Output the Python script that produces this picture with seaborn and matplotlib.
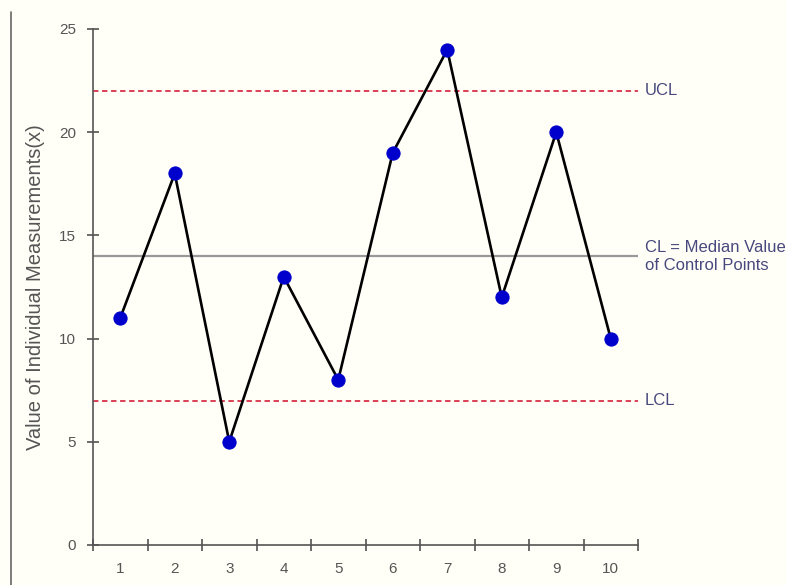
import numpy as np
import pandas as pd
import seaborn as sns
import matplotlib.pyplot as plt
from matplotlib.lines import Line2D
from matplotlib.ticker import FixedLocator

# datos del grafico de control
muestras = [1, 2, 3, 4, 5, 6, 7, 8, 9, 10]
valores = [11, 18, 5, 13, 8, 19, 24, 12, 20, 10]
ucl = 22
cl = 14
lcl = 7
y_ticks = [0, 5, 10, 15, 20, 25]

df = pd.DataFrame({"muestra": muestras, "valor": valores})

sns.set_style("white")
plt.rcParams["font.family"] = ["Liberation Sans", "DejaVu Sans"]

fondo = "#fffff8"
gris = "#555555"
texto = "#48487e"

fig = plt.figure(figsize=(7.86, 5.85), dpi=100, facecolor=fondo)
ax = fig.add_axes([93 / 786, 40 / 585, 545 / 786, 516 / 585])
ax.set_facecolor(fondo)

ax.axhline(cl, color="#999999", lw=1.6, zorder=1)
ax.axhline(ucl, color="#d9304a", lw=1.3, ls=(0, (3, 2)), zorder=1)
ax.axhline(lcl, color="#d9304a", lw=1.3, ls=(0, (3, 2)), zorder=1)

sns.lineplot(data=df, x="muestra", y="valor", ax=ax, color="black", lw=1.9,
             marker="o", markersize=9.5, markerfacecolor="#0000cc",
             markeredgecolor="#0000cc", zorder=3)

ax.set_xlim(0.5, 10.5)
ax.set_ylim(0, 25)

# etiquetas en el centro, marcas en los limites
ax.set_xticks(muestras)
ax.set_xticklabels([str(m) for m in muestras])
ax.xaxis.set_minor_locator(FixedLocator(np.arange(0.5, 11, 1)))
ax.tick_params(axis="x", which="major", bottom=True, length=0, pad=12,
               labelsize=11, labelcolor=gris)
ax.tick_params(axis="x", which="minor", bottom=True, length=8, direction="inout",
               width=1.1, color="#444444")
ax.set_yticks(y_ticks)
ax.tick_params(axis="y", left=True, length=8, direction="inout", width=1.1, color="#444444",
               labelsize=11, labelcolor=gris, pad=8)

for lado in ["top", "right"]:
    ax.spines[lado].set_visible(False)
for lado in ["left", "bottom"]:
    ax.spines[lado].set_color("#555555")
    ax.spines[lado].set_linewidth(1.2)

ax.set_xlabel("")
ax.set_ylabel("Value of Individual Measurements(x)", fontsize=14.5, color="#555555", labelpad=10)

ax.text(10.62, ucl, "UCL", color=texto, fontsize=12, va="center", ha="left", clip_on=False)
ax.text(10.62, cl, "CL = Median Value\nof Control Points", color=texto, fontsize=12,
        va="center", ha="left", linespacing=1.25, clip_on=False)
ax.text(10.62, lcl, "LCL", color=texto, fontsize=12, va="center", ha="left", clip_on=False)

# borde izquierdo
fig.add_artist(Line2D([11 / 786, 11 / 786], [0, 1 - 12 / 585], transform=fig.transFigure,
                      color="#666666", lw=1.2))

fig.savefig("out.png", dpi=100, facecolor=fondo)
